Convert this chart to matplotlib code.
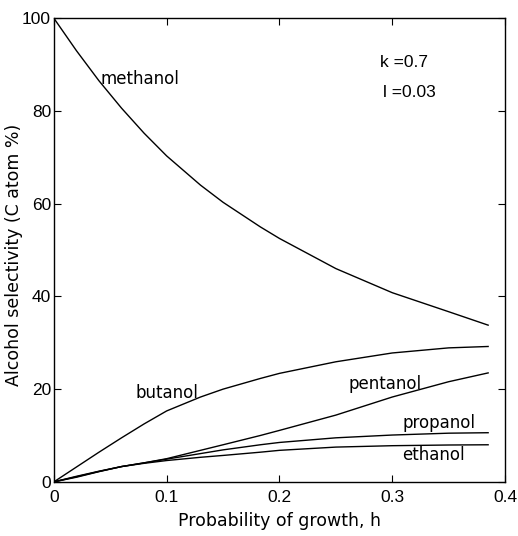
import numpy as np
import matplotlib.pyplot as plt

# h = probability of growth
h = [0, 0.02, 0.04, 0.06, 0.08, 0.10, 0.13, 0.15, 0.183, 0.20, 0.25, 0.30, 0.35, 0.385]

methanol = [100, 93, 86.5, 80.6, 75.2, 70.3, 64.0, 60.3, 55.0, 52.5, 46.0, 40.8, 36.7, 33.8]
butanol  = [0, 3.2, 6.4, 9.5, 12.5, 15.3, 18.3, 20.0, 22.3, 23.4, 25.9, 27.8, 28.9, 29.2]
pentanol = [0, 1.0, 2.2, 3.3, 4.1, 5.0, 6.8, 8.0, 10.0, 11.1, 14.4, 18.3, 21.6, 23.5]
propanol = [0, 1.1, 2.25, 3.3, 4.1, 4.9, 6.1, 6.9, 8.0, 8.5, 9.5, 10.1, 10.5, 10.6]
ethanol  = [0, 1.2, 2.3, 3.3, 4.0, 4.6, 5.3, 5.7, 6.4, 6.8, 7.5, 7.8, 7.95, 8.0]

xticks = [0, 0.1, 0.2, 0.3, 0.4]
xticklabels = ['0', '0.1', '0.2', '0.3', '0.4']
yticks = [0, 20, 40, 60, 80, 100]

plt.rcParams['font.family'] = ['DejaVu Sans']

fig = plt.figure(figsize=(5.18, 5.36), dpi=100)
ax = fig.add_axes([0.104, 0.101, 0.871, 0.865])

for y in [methanol, butanol, pentanol, propanol, ethanol]:
    ax.plot(h, y, 'k-', lw=1.0)

ax.set_xlim(0, 0.4)
ax.set_ylim(0, 100)
ax.set_xticks(xticks)
ax.set_xticklabels(xticklabels, family='Liberation Sans')
ax.set_yticks(yticks)
ax.set_yticklabels([str(v) for v in yticks], family='Liberation Sans')
ax.tick_params(axis='x', direction='in', top=True, length=5, labelsize=12.5, pad=6)
ax.tick_params(axis='y', direction='in', right=True, length=5, labelsize=12.5, pad=2)
for s in ax.spines.values():
    s.set_linewidth(1.0)

ax.text(0.041, 86.8, 'methanol', fontsize=12, va='center')
ax.text(0.072, 19.2, 'butanol', fontsize=12, va='center')
ax.text(0.261, 21.0, 'pentanol', fontsize=12, va='center')
ax.text(0.3095, 12.7, 'propanol', fontsize=12, va='center')
ax.text(0.309, 5.8, 'ethanol', fontsize=12, va='center')
ax.text(0.289, 90.5, 'k =0.7', fontsize=12.5, va='center', family='Liberation Sans')
ax.text(0.292, 84.0, 'l =0.03', fontsize=12.5, va='center', family='Liberation Sans')

ax.set_xlabel('Probability of growth, h', fontsize=12.5, labelpad=5)
ax.set_ylabel('Alcohol selectivity (C atom %)', fontsize=12.5)
ax.yaxis.set_label_coords(-0.068, 0.49)

plt.savefig('out.png', dpi=100)
